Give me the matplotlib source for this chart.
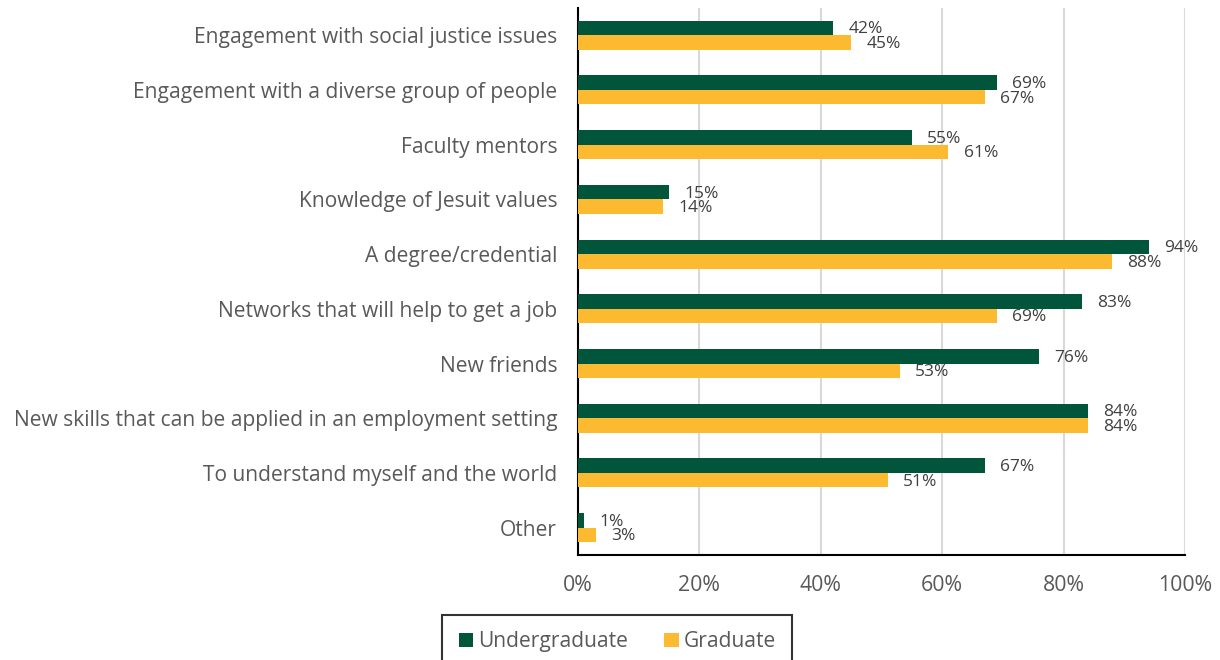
import matplotlib.pyplot as plt
import numpy as np

categories = [
    "Engagement with social justice issues",
    "Engagement with a diverse group of people",
    "Faculty mentors",
    "Knowledge of Jesuit values",
    "A degree/credential",
    "Networks that will help to get a job",
    "New friends",
    "New skills that can be applied in an employment setting",
    "To understand myself and the world",
    "Other",
]
undergrad = [42, 69, 55, 15, 94, 83, 76, 84, 67, 1]
graduate = [45, 67, 61, 14, 88, 69, 53, 84, 51, 3]
xticks = [0, 20, 40, 60, 80, 100]

GREEN = "#00553A"
GOLD = "#FBBA30"
GREY = "#595959"

plt.rcParams['font.family'] = ['Open Sans', 'DejaVu Sans']

fig = plt.figure(figsize=(12.2, 6.6), dpi=100)
ax = fig.add_axes([0.4738, 0.159, 0.4975, 0.829])

y = np.arange(len(categories))
h = 0.265
b1 = ax.barh(y - h / 2, undergrad, height=h, color=GREEN, label="Undergraduate", zorder=3)
b2 = ax.barh(y + h / 2, graduate, height=h, color=GOLD, label="Graduate", zorder=3)

# value labels just past the bar ends
for bars, vals in ((b1, undergrad), (b2, graduate)):
    for bar, v in zip(bars, vals):
        ax.annotate(f"{v}%", (v, bar.get_y() + bar.get_height() / 2),
                    xytext=(11, -1), textcoords='offset points',
                    va='center', ha='left', fontsize=12.5, color="#404040", zorder=4)

ax.set_ylim(len(categories) - 0.5, -0.5)
ax.set_xlim(0, 100)
ax.set_yticks(y)
ax.set_yticklabels(categories)
ax.set_xticks(xticks)
ax.set_xticklabels([f"{t}%" for t in xticks])
ax.tick_params(axis='y', length=0, pad=15, labelsize=15.1, labelcolor=GREY)
ax.tick_params(axis='x', length=0, pad=14, labelsize=15.3, labelcolor=GREY)

ax.grid(axis='x', color="#D9D9D9", lw=1.5, zorder=0)
for s in ('top', 'right'):
    ax.spines[s].set_visible(False)
for s in ('left', 'bottom'):
    ax.spines[s].set_color('black')
    ax.spines[s].set_linewidth(1.5)

leg = fig.legend(handles=[b1, b2], loc='upper center', bbox_to_anchor=(0.506, 0.068),
                 ncol=2, frameon=True, fancybox=False, fontsize=15.1,
                 handlelength=0.7, handleheight=0.7, handletextpad=0.25,
                 columnspacing=1.7, borderpad=0.78, borderaxespad=0, labelcolor=GREY)
leg.get_frame().set_edgecolor('black')
leg.get_frame().set_linewidth(1.5)

fig.savefig("out.png", dpi=100)
